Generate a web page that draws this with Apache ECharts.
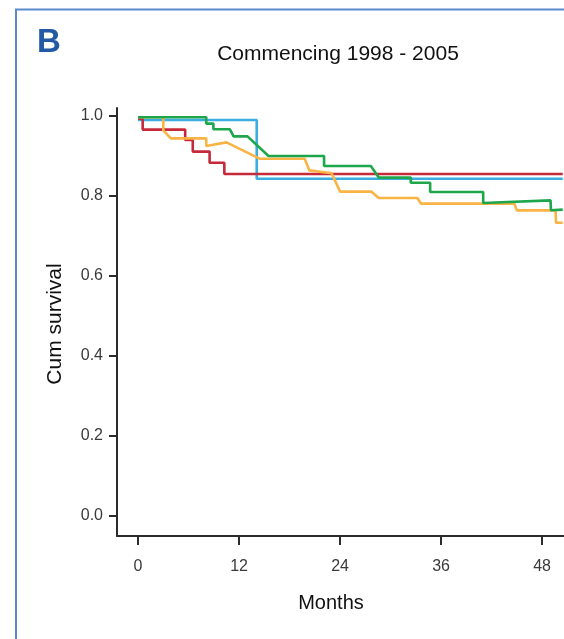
<!DOCTYPE html>
<html>
<head>
<meta charset="utf-8">
<script src="https://cdn.jsdelivr.net/npm/echarts@6/dist/echarts.min.js"></script>
<style>
html,body{margin:0;padding:0;background:#fff;}
#chart{width:564px;height:639px;}
</style>
</head>
<body>
<div id="chart"></div>
<script>
// ---- Data ----
var xTicks = [0, 12, 24, 36, 48];
var yTicks = [0, 0.2, 0.4, 0.6, 0.8, 1.0];

var blueMonths = [0, 14.1, 14.1, 50.45];
var blueSurv   = [0.99, 0.99, 0.843, 0.843];

var redMonths = [0, 0.55, 0.55, 5.6, 5.6, 6.5, 6.5, 8.5, 8.5, 10.25, 10.25, 50.45];
var redSurv   = [0.993, 0.993, 0.966, 0.966, 0.94, 0.94, 0.911, 0.911, 0.883, 0.883, 0.855, 0.855];

var orangeMonths = [0, 3.0, 3.0, 3.9, 8.1, 8.1, 10.5, 14.5, 19.8, 20.35, 23.0, 24.0, 27.7, 28.6, 33.2, 33.6, 44.7, 45.0, 49.6, 49.65, 50.45];
var orangeSurv   = [0.997, 0.997, 0.964, 0.944, 0.944, 0.925, 0.934, 0.893, 0.893, 0.864, 0.857, 0.811, 0.811, 0.795, 0.795, 0.781, 0.781, 0.764, 0.764, 0.733, 0.733];

var greenMonths = [0, 8.1, 8.1, 8.95, 8.95, 10.9, 11.35, 13.0, 15.5, 22.1, 22.1, 27.65, 28.6, 32.4, 32.4, 34.7, 34.7, 41.0, 41.0, 49.0, 49.05, 50.45];
var greenSurv   = [0.997, 0.997, 0.981, 0.981, 0.967, 0.967, 0.949, 0.949, 0.90, 0.90, 0.875, 0.875, 0.846, 0.846, 0.833, 0.833, 0.81, 0.81, 0.7825, 0.789, 0.7645, 0.766];

function pairs(xs, ys) { return xs.map(function (x, i) { return [x, ys[i]]; }); }

var FONT = "'Liberation Sans', Arial, Helvetica, sans-serif";

function lineSeries(name, xs, ys, color) {
  return {
    name: name, type: 'line', data: pairs(xs, ys),
    showSymbol: false, symbol: 'none', smooth: false,
    lineStyle: { color: color, width: 2.6 },
    itemStyle: { color: color },
    animation: false, clip: false
  };
}

var chart = echarts.init(document.getElementById('chart'));
chart.setOption({
  animation: false,
  backgroundColor: '#ffffff',
  grid: { left: 117, right: 0, top: 108, bottom: 103, containLabel: false },
  xAxis: {
    type: 'value', min: -2.5, max: 50.6,
    axisLine: { show: true, onZero: false, lineStyle: { color: '#2b2b2b', width: 2 } },
    axisTick: { show: true, customValues: xTicks, length: 9, lineStyle: { color: '#2b2b2b', width: 2 } },
    axisLabel: { customValues: xTicks, fontSize: 16, color: '#3a3a3a', fontFamily: FONT, margin: 23 },
    splitLine: { show: false }
  },
  yAxis: {
    type: 'value', min: -0.05, max: 1.02,
    axisLine: { show: true, onZero: false, lineStyle: { color: '#2b2b2b', width: 2 } },
    axisTick: { show: true, customValues: yTicks, length: 8, lineStyle: { color: '#2b2b2b', width: 2 } },
    axisLabel: { customValues: yTicks, fontSize: 16, color: '#3a3a3a', fontFamily: FONT, margin: 14,
      formatter: function (v) { return v.toFixed(1); } },
    splitLine: { show: false }
  },
  series: [
    lineSeries('Blue', blueMonths, blueSurv, '#3aaee0'),
    lineSeries('Red', redMonths, redSurv, '#c62a3a'),
    lineSeries('Orange', orangeMonths, orangeSurv, '#fab446'),
    lineSeries('Green', greenMonths, greenSurv, '#1ea64c')
  ],
  graphic: [
    { type: 'polyline', shape: { points: [[16, 640], [16, 9.5], [566, 9.5]] },
      style: { stroke: '#5a89cc', lineWidth: 2, fill: null }, silent: true },
    { type: 'text', x: 49, y: 43,
      style: { text: 'B', font: "bold 33px " + FONT, fill: '#2159a5', textAlign: 'center', textVerticalAlign: 'middle' } },
    { type: 'text', x: 338, y: 54,
      style: { text: 'Commencing 1998 - 2005', font: "21px " + FONT, fill: '#111', textAlign: 'center', textVerticalAlign: 'middle' } },
    { type: 'text', x: 331, y: 603,
      style: { text: 'Months', font: "20px " + FONT, fill: '#111', textAlign: 'center', textVerticalAlign: 'middle' } },
    { type: 'text', x: 55, y: 324, rotation: Math.PI / 2,
      style: { text: 'Cum survival', font: "21px " + FONT, fill: '#111', textAlign: 'center', textVerticalAlign: 'middle' } }
  ]
});
</script>
</body>
</html>
